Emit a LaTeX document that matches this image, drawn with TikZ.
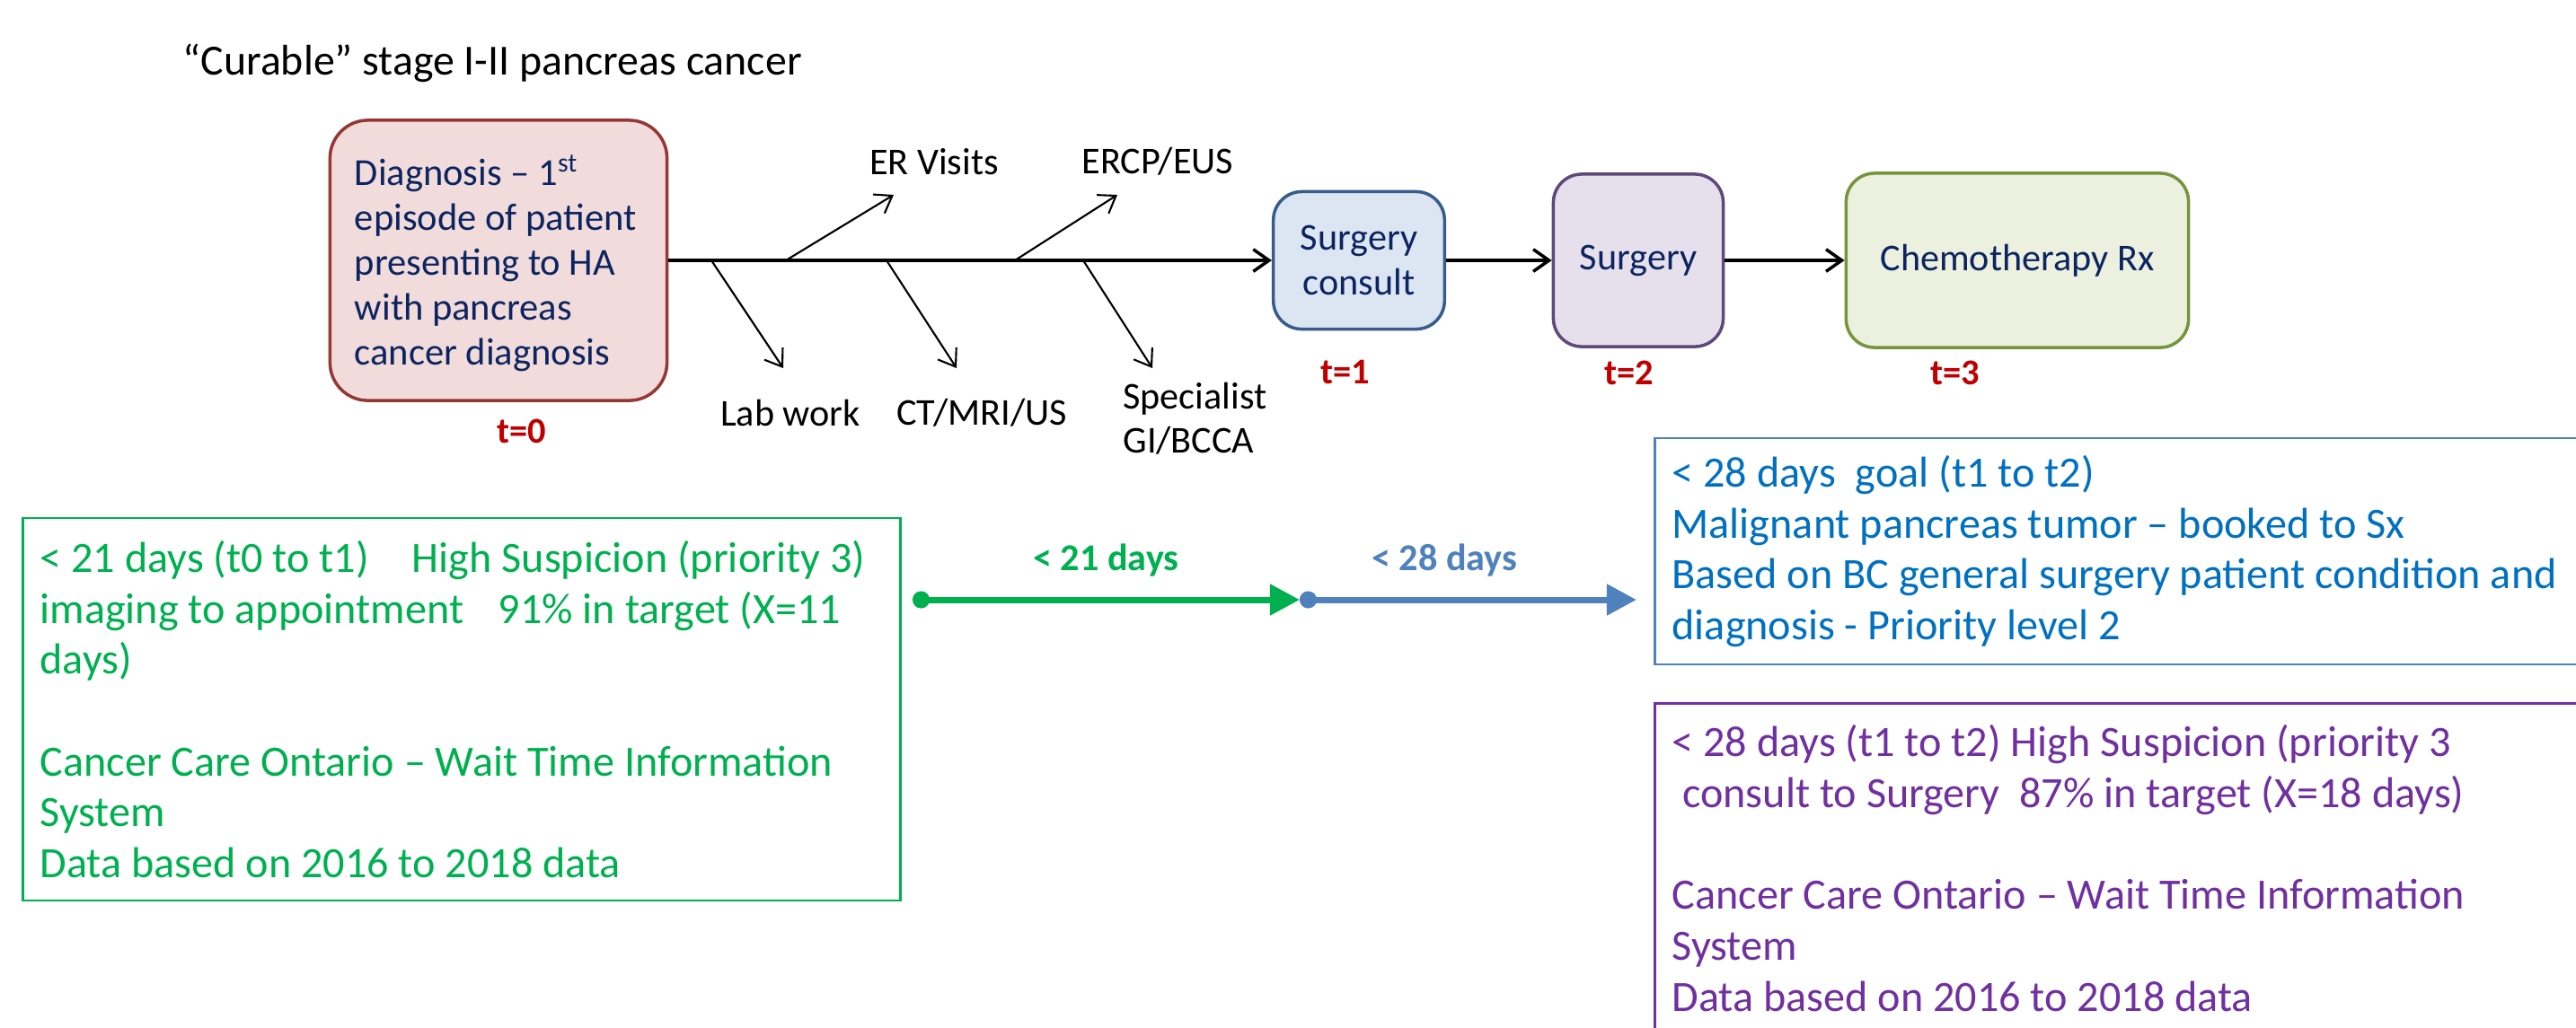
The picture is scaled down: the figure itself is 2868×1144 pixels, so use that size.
\documentclass[tikz,border=0pt]{standalone}
\usepackage{fontspec}
\setmainfont{Carlito}
\usepackage{tikz}
\usetikzlibrary{arrows.meta,positioning}

\definecolor{navytext}{HTML}{0C2460}
\definecolor{diagfill}{HTML}{F2DCDB}
\definecolor{diagline}{HTML}{953735}
\definecolor{consfill}{HTML}{DCE6F2}
\definecolor{consline}{HTML}{385D8A}
\definecolor{surgfill}{HTML}{E6E0EC}
\definecolor{surgline}{HTML}{5F497A}
\definecolor{chemfill}{HTML}{EBF1DE}
\definecolor{chemline}{HTML}{77933C}
\definecolor{tred}{HTML}{C00000}
\definecolor{waitgreen}{HTML}{00B050}
\definecolor{waitblue}{HTML}{4F81BD}
\definecolor{goalblue}{HTML}{0070C0}
\definecolor{waitpurple}{HTML}{7030A0}

\begin{document}
\begin{tikzpicture}[
    x=0.01cm, y=-0.01cm,
    stepbox/.style={rectangle, rounded corners=9pt, draw, line width=1pt, align=center, text=navytext, font=\fontsize{12}{14}\selectfont},
    waitbox/.style={rectangle, draw, line width=0.75pt},
    waittext/.style={anchor=west, align=left, inner sep=0pt, font=\fontsize{13.7}{16.1}\selectfont},
    cause/.style={font=\fontsize{12}{14}\selectfont, align=left},
    tlabel/.style={text=tred, font=\fontsize{11.5}{13}\selectfont\bfseries},
    flow/.style={-{Straight Barb[length=5pt,width=7pt]}, line width=1pt},
    branch/.style={-{Straight Barb[length=5pt,width=7pt]}, line width=0.6pt},
    span/.style={line width=2pt, {Circle[length=5.4pt]}-{Triangle[length=9.4pt,width=9.5pt]}}
]
    \useasboundingbox (0,0) rectangle (2868,1144);
    \clip (0,0) rectangle (2868,1144);

    % Title
    \node[anchor=base west, inner sep=0pt, font=\fontsize{13.6}{16}\selectfont] (title) at (203,83) {“Curable” stage I-II pancreas cancer};

    % Pathway steps
    \node[stepbox, draw=diagline, fill=diagfill, rounded corners=12pt, minimum width=3.75cm, minimum height=3.12cm] (diag) at (555,290) {};
    \node[waittext, text=navytext, font=\fontsize{12.1}{14.2}\selectfont] (diagtext) at ([xshift=0.285cm, yshift=-0.03cm]diag.west)
        {Diagnosis – 1\textsuperscript{st}\\episode of patient\\presenting to HA\\with pancreas\\cancer diagnosis};
    \node[stepbox, draw=consline, fill=consfill, minimum width=1.905cm, minimum height=1.53cm] (consult) at (1513,290) {Surgery\\consult};
    \node[stepbox, draw=surgline, fill=surgfill, minimum width=1.89cm, minimum height=1.92cm] (surgery) at (1824,290) {Surgery};
    \node[stepbox, draw=chemline, fill=chemfill, minimum width=3.81cm, minimum height=1.94cm] (chemo) at (2246,290) {Chemotherapy Rx};

    % Time points
    \node[tlabel] (t0) at (581,480) {t=0};
    \node[tlabel] (t1) at (1498,415) {t=1};
    \node[tlabel] (t2) at (1814,415) {t=2};
    \node[tlabel] (t3) at (2177,415) {t=3};

    % Flow
    \draw[flow] (diag.east) -- (consult.west);
    \draw[flow] (consult.east) -- (surgery.west);
    \draw[flow] (surgery.east) -- (chemo.west);

    % Side events
    \node[cause] (er) at (1040,180) {ER Visits};
    \node[cause] (ercp) at (1289,180) {ERCP/EUS};
    \node[cause] (lab) at (880,460) {Lab work};
    \node[cause] (ct) at (1093,460) {CT/MRI/US};
    \node[cause, anchor=west] (spec) at (1238,466) {Specialist\\GI/BCCA};

    \coordinate (s1) at (792,290);
    \coordinate (s2) at (875,290);
    \coordinate (s3) at (987,290);
    \coordinate (s4) at (1130,290);
    \coordinate (s5) at (1206,290);
    \coordinate (e1) at (872,410);
    \coordinate (e2) at (995,217);
    \coordinate (e3) at (1065,410);
    \coordinate (e4) at (1244,217);
    \coordinate (e5) at (1283,410);
    \draw[branch] (s1) -- (e1);
    \draw[branch] (s2) -- (e2);
    \draw[branch] (s3) -- (e3);
    \draw[branch] (s4) -- (e4);
    \draw[branch] (s5) -- (e5);

    % Wait time boxes
    \node[waitbox, draw=waitgreen, minimum width=9.77cm, minimum height=4.26cm] (ccogreen) at (514,790) {};
    \node[waittext, text=waitgreen] (ccogreentext) at ([xshift=0.2cm]ccogreen.west)
        {< 21 days (t0 to t1)\hspace{13.6pt}High Suspicion (priority 3)\\imaging to appointment\hspace{10.9pt}91\% in target (X=11\\days)\\~\\Cancer Care Ontario – Wait Time Information\\System\\Data based on 2016 to 2018 data};
    \node[waitbox, draw=waitblue, minimum width=10.37cm, minimum height=2.52cm] (bcgoal) at (2361,614) {};
    \node[waittext, text=goalblue] (bcgoaltext) at ([xshift=0.2cm]bcgoal.west)
        {< 28 days\ \ goal (t1 to t2)\\Malignant pancreas tumor – booked to Sx\\Based on BC general surgery patient condition and\\diagnosis - Priority level 2};
    \node[waitbox, draw=waitpurple, minimum width=10.37cm, minimum height=3.67cm] (ccopurple) at (2361,967) {};
    \node[waittext, text=waitpurple] (ccopurpletext) at ([xshift=0.2cm]ccopurple.west)
        {< 28 days (t1 to t2) High Suspicion (priority 3\\\hspace*{3.3pt}consult to Surgery\ \ 87\% in target (X=18 days)\\~\\Cancer Care Ontario – Wait Time Information\\System\\Data based on 2016 to 2018 data};

    % Timeline
    \coordinate (g0) at (1016,668);
    \coordinate (g1) at (1447,668);
    \coordinate (g2) at (1822,668);
    \draw[span, draw=waitgreen, fill=waitgreen] (g0) -- node[above=3pt, text=waitgreen, font=\fontsize{12}{14}\selectfont\bfseries] (lbl21) {< 21 days} (g1);
    \draw[span, draw=waitblue, fill=waitblue] (g1) -- node[pos=0.43, above=3pt, text=waitblue, font=\fontsize{12}{14}\selectfont\bfseries] (lbl28) {< 28 days} (g2);
\end{tikzpicture}
\end{document}
